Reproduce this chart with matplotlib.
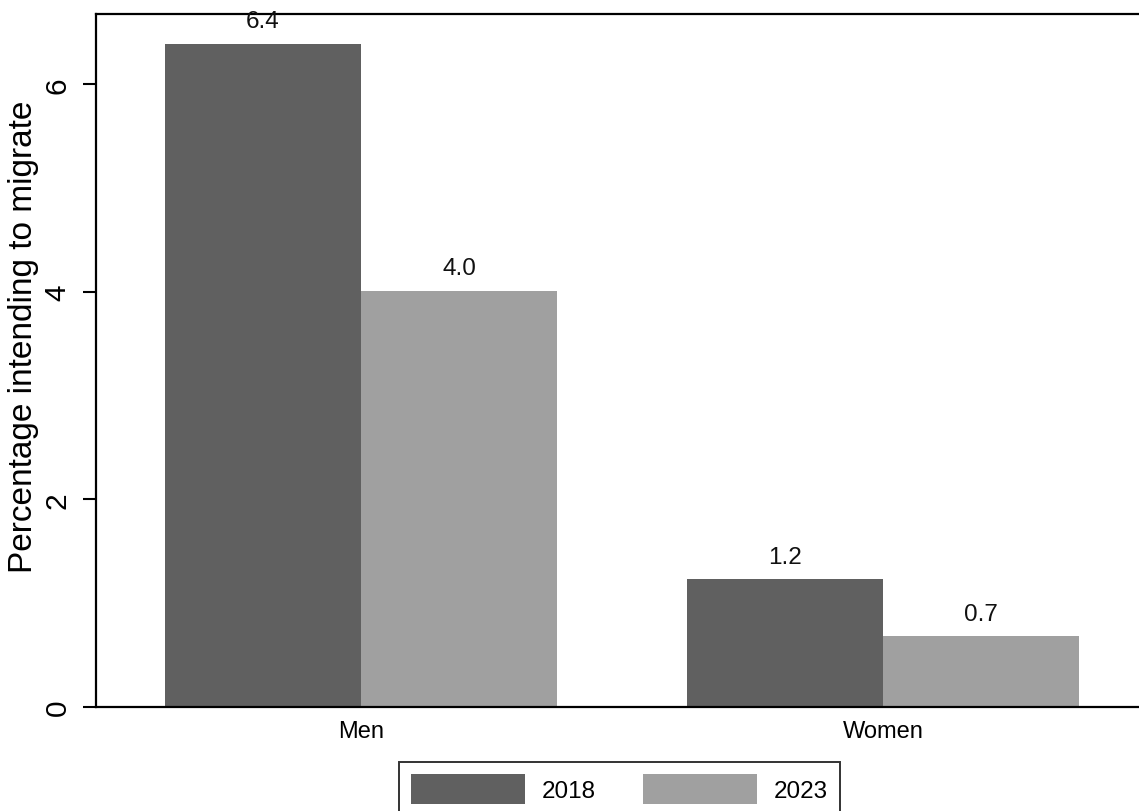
import matplotlib
matplotlib.use("Agg")
import matplotlib.pyplot as plt
from matplotlib.patches import Patch
import numpy as np

plt.rcParams['font.family'] = ['Liberation Sans', 'DejaVu Sans']

groups = ["Men", "Women"]
years = ["2018", "2023"]
values_2018 = [6.39, 1.23]
values_2023 = [4.01, 0.68]
yticks = [0, 2, 4, 6]
colors = ["#606060", "#a0a0a0"]

W, H, DPI = 1139, 812, 100
fig = plt.figure(figsize=(W / DPI, H / DPI), dpi=DPI)
ax = fig.add_axes([96 / W, 1 - 708 / H, 1 - 96 / W, (708 - 15) / H])

x = np.arange(len(groups))
bw = 196 / 522
b1 = ax.bar(x - bw / 2, values_2018, bw, color=colors[0], linewidth=0)
b2 = ax.bar(x + bw / 2, values_2023, bw, color=colors[1], linewidth=0)

for bars, vals in ((b1, values_2018), (b2, values_2023)):
    for rect, v in zip(bars, vals):
        ax.annotate(f"{v:.1f}", (rect.get_x() + rect.get_width() / 2, v),
                    xytext=(0, 8.5), textcoords="offset points",
                    ha="center", va="bottom", fontsize=17.5, color="#111111")

ax.set_xlim((96 - 361) / 522, (1139 - 361) / 522)
ax.set_ylim(0, (708 - 15) / 103.8)
ax.set_xticks(x)
ax.set_xticklabels(groups, fontsize=17)
ax.tick_params(axis="x", length=0, pad=9)
ax.set_yticks(yticks)
ax.set_yticklabels([str(t) for t in yticks], rotation=90, va="center", fontsize=21.5)
ax.tick_params(axis="y", length=9.5, width=1.5, pad=8)
ax.set_ylabel("Percentage intending to migrate", fontsize=24)
ax.yaxis.set_label_coords((39 - 96) / 1043, (708 - 336.5) / 693)

for s in ("left", "top", "bottom"):
    ax.spines[s].set_linewidth(1.6)
    ax.spines[s].set_color("black")
ax.spines["right"].set_visible(False)

handles = [Patch(facecolor=colors[0], edgecolor="none"),
           Patch(facecolor=colors[1], edgecolor="none")]
fs = 17.5
fpx = fs * DPI / 72
hh = (30 / fpx - 0.245) / 0.65
leg = fig.legend(handles, years, loc="upper left",
                 bbox_to_anchor=(399 / W, 1 - 763 / H), ncol=2,
                 fontsize=fs, frameon=True, fancybox=False,
                 handlelength=114 / fpx, handleheight=hh,
                 handletextpad=17 / fpx, columnspacing=47 / fpx,
                 borderpad=0.5, borderaxespad=0)
leg.get_frame().set_edgecolor("black")
leg.get_frame().set_linewidth(1.4)

fig.savefig("out.png", dpi=DPI)
